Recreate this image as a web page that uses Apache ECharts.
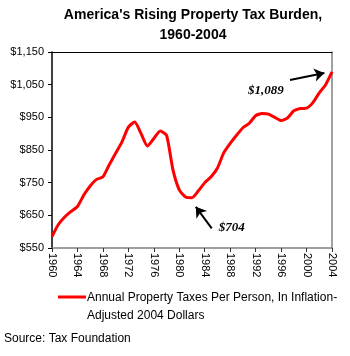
<!DOCTYPE html>
<html>
<head>
<meta charset="utf-8">
<script src="https://cdn.jsdelivr.net/npm/echarts@6/dist/echarts.min.js"></script>
<style>
  html, body { margin: 0; padding: 0; background: #fff; }
  #chart { width: 350px; height: 356px; }
</style>
</head>
<body>
<div id="chart"></div>
<script>
// annual property taxes per person, inflation-adjusted 2004 dollars
const years = [1960, 1961, 1962, 1963, 1964, 1965, 1966, 1967, 1968, 1969,
  1970, 1971, 1972, 1973, 1974, 1975, 1976, 1977, 1978, 1979,
  1980, 1981, 1982, 1983, 1984, 1985, 1986, 1987, 1988, 1989,
  1990, 1991, 1992, 1993, 1994, 1995, 1996, 1997, 1998, 1999,
  2000, 2001, 2002, 2003, 2004];
const taxPerPerson = [585, 622, 645, 662, 677, 712, 740, 760, 768, 805,
  840, 875, 920, 936, 900, 862, 885, 908, 895, 790,
  728, 706, 704, 725, 750, 768, 795, 842, 870, 895,
  918, 932, 955, 962, 960, 950, 940, 948, 970, 977,
  978, 995, 1025, 1050, 1089];
const callouts = ['$704', '$1,089'];
const seriesName = 'Annual Property Taxes Per Person, In Inflation-\nAdjusted 2004 Dollars';

const font = 'Liberation Sans, Arial, sans-serif';
const chart = echarts.init(document.getElementById('chart'));

const option = {
  animation: false,
  backgroundColor: '#fff',
  title: {
    text: "America's Rising Property Tax Burden,\n1960-2004",
    left: 188,
    top: 0,
    textAlign: 'center',
    textStyle: { fontFamily: font, fontSize: 14, fontWeight: 'bold', color: '#000', lineHeight: 20 }
  },
  grid: { left: 52, right: 18, top: 52, bottom: 108 },
  xAxis: [
    {
      type: 'value',
      min: 1960,
      max: 2004,
      interval: 4,
      axisLine: { show: true, onZero: false, lineStyle: { color: '#808080', width: 1.5 } },
      axisTick: { show: true, length: 4, lineStyle: { color: '#333' } },
      axisLabel: {
        rotate: -90,
        margin: 5,
        fontFamily: font,
        fontSize: 11,
        color: '#000',
        formatter: v => String(v)
      },
      splitLine: { show: false }
    },
    {
      type: 'value',
      position: 'top',
      min: 1960,
      max: 2004,
      axisLine: { show: true, onZero: false, lineStyle: { color: '#000', width: 1 } },
      axisTick: { show: false },
      axisLabel: { show: false },
      splitLine: { show: false }
    }
  ],
  yAxis: [
    {
      type: 'value',
      min: 550,
      max: 1150,
      interval: 100,
      axisLine: { show: true, onZero: false, lineStyle: { color: '#000', width: 1.5 } },
      axisTick: { show: true, length: 4, lineStyle: { color: '#000' } },
      axisLabel: {
        margin: 8,
        fontFamily: font,
        fontSize: 11,
        color: '#000',
        formatter: v => '$' + v.toLocaleString('en-US')
      },
      splitLine: { show: false }
    },
    {
      type: 'value',
      position: 'right',
      min: 550,
      max: 1150,
      axisLine: { show: true, onZero: false, lineStyle: { color: '#808080', width: 1.5 } },
      axisTick: { show: false },
      axisLabel: { show: false },
      splitLine: { show: false }
    }
  ],
  series: [
    {
      name: seriesName,
      type: 'line',
      data: years.map((y, i) => [y, taxPerPerson[i]]),
      symbol: 'none',
      smooth: 0.2,
      lineStyle: { color: '#ff0000', width: 3 },
      markLine: {
        silent: true,
        symbol: ['none', 'arrow'],
        symbolSize: 10,
        lineStyle: { color: '#000', width: 2, type: 'solid' },
        label: { show: false },
        data: [
          [{ coord: [1985.1, 610] }, { coord: [1982.6, 676] }],
          [{ coord: [1997.4, 1064] }, { coord: [2002.8, 1086] }]
        ]
      },
      markPoint: {
        silent: true,
        symbol: 'circle',
        symbolSize: 0,
        label: {
          show: true,
          position: 'right',
          distance: 0,
          formatter: p => p.name,
          fontFamily: 'Liberation Serif, Times New Roman, serif',
          fontStyle: 'italic',
          fontWeight: 'bold',
          fontSize: 13,
          color: '#000'
        },
        data: [
          { name: callouts[0], coord: [1986.2, 611] },
          { name: callouts[1], coord: [1990.8, 1031] }
        ]
      }
    }
  ],
  graphic: [
    {
      type: 'line',
      shape: { x1: 58, y1: 297, x2: 86, y2: 297 },
      style: { stroke: '#ff0000', lineWidth: 3 }
    },
    {
      type: 'text',
      left: 87,
      top: 289,
      style: { text: seriesName, font: '12px ' + font, lineHeight: 18, fill: '#000' }
    },
    {
      type: 'text',
      left: 4,
      top: 333,
      style: { text: 'Source: Tax Foundation', font: '12px ' + font, fill: '#000' }
    }
  ]
};

chart.setOption(option);
</script>
</body>
</html>
